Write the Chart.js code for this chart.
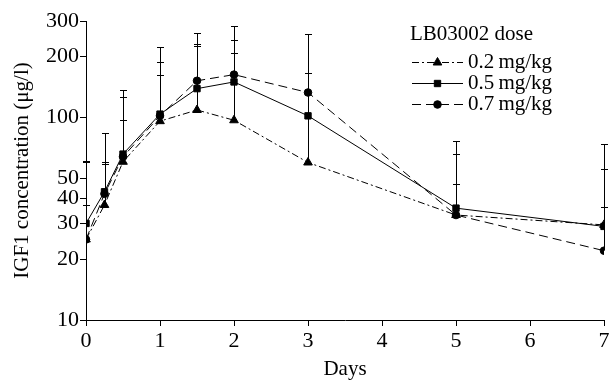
<!DOCTYPE html>
<html>
<head>
<meta charset="utf-8">
<script src="https://cdn.jsdelivr.net/npm/chart.js@4.4.1/dist/chart.umd.min.js"></script>
<style>
  html, body { margin: 0; padding: 0; background: #fff; }
  #c { display: block; }
</style>
</head>
<body>
<canvas id="c" width="612" height="382"></canvas>
<script>
// ---- data ----
const days = [0, 0.25, 0.5, 1, 1.5, 2, 3, 5, 7];
const dose02 = [25, 37, 60.5, 96, 109, 97, 60, 33, 29.5];
const dose05 = [30, 43, 66, 104, 139, 150, 102, 35.7, 29];
const dose07 = [25, 42, 64, 102, 152, 163, 133, 33, 22];
// top of the upper error bars
const upper02 = [61, 59, 97, 163, 226, 209, 166, 47, 56];
const upper05 = [37, 84, 126, 189, 230, 242, 166, 66, 74];
const upper07 = [60, 60, 137, 223, 261, 283, 258, 77, 36];
const yTicks = [10, 20, 30, 40, 50, 100, 200, 300];
const xTicks = [0, 1, 2, 3, 4, 5, 6, 7];
const seriesNames = ['0.2\u2009mg/kg', '0.5\u2009mg/kg', '0.7\u2009mg/kg'];
const legendTitle = 'LB03002 dose';
const yTitle = 'IGF1 concentration (\u03bcg/l)';
const xTitle = 'Days';

const FONT = "'Liberation Serif', 'Times New Roman', serif";

function pts(vals) { return days.map((d, i) => ({ x: d, y: vals[i] })); }

const errorBars = {
  id: 'errorBars',
  beforeDatasetsDraw(chart) {
    const ctx = chart.ctx;
    const xs = chart.scales.x, ys = chart.scales.y;
    ctx.save();
    ctx.strokeStyle = '#000';
    ctx.lineWidth = 1;
    chart.data.datasets.forEach(ds => {
      ds.upper.forEach((u, i) => {
        const px = Math.round(xs.getPixelForValue(ds.data[i].x)) + 0.5;
        const py0 = ys.getPixelForValue(ds.data[i].y);
        const py1 = Math.round(ys.getPixelForValue(u)) + 0.5;
        ctx.beginPath();
        ctx.moveTo(px, py0);
        ctx.lineTo(px, py1);
        ctx.moveTo(px - 3.5, py1);
        ctx.lineTo(px + 3.5, py1);
        ctx.stroke();
      });
    });
    ctx.restore();
  }
};

const customLegend = {
  id: 'customLegend',
  afterDraw(chart) {
    const ctx = chart.ctx;
    ctx.save();
    ctx.fillStyle = '#000';
    ctx.strokeStyle = '#000';
    ctx.font = '21px ' + FONT;
    ctx.textBaseline = 'middle';
    ctx.textAlign = 'left';
    ctx.fillText(legendTitle, 410, 34);
    const rows = [62, 83, 104];
    chart.data.datasets.forEach((ds, i) => {
      const y = rows[i];
      ctx.save();
      ctx.lineWidth = 1;
      ctx.setLineDash(ds.borderDash || []);
      ctx.beginPath();
      ctx.moveTo(412, y + 0.5);
      ctx.lineTo(463, y + 0.5);
      ctx.stroke();
      ctx.restore();
      ctx.fillStyle = '#000';
      Chart.helpers.drawPoint(ctx, { pointStyle: ds.pointStyle, radius: ds.pointRadius, rotation: 0, borderWidth: 1 }, 437.5, y + 0.5);
      ctx.fillStyle = '#000';
      ctx.fillText(seriesNames[i], 468, y);
    });
    ctx.restore();
  }
};

new Chart(document.getElementById('c'), {
  type: 'line',
  data: {
    datasets: [
      { label: seriesNames[0], data: pts(dose02), upper: upper02, borderColor: '#000', backgroundColor: '#000', borderWidth: 1, borderDash: [7, 3, 2, 3], pointStyle: 'triangle', pointRadius: 5, pointBorderWidth: 1 },
      { label: seriesNames[1], data: pts(dose05), upper: upper05, borderColor: '#000', backgroundColor: '#000', borderWidth: 1, borderDash: [], pointStyle: 'rect', pointRadius: 4.5, pointBorderWidth: 1 },
      { label: seriesNames[2], data: pts(dose07), upper: upper07, borderColor: '#000', backgroundColor: '#000', borderWidth: 1, borderDash: [9, 5], pointStyle: 'circle', pointRadius: 3.8, pointBorderWidth: 1 }
    ]
  },
  options: {
    responsive: false,
    animation: false,
    devicePixelRatio: 1,
    layout: { padding: { left: 0, right: 8, top: 21, bottom: 0 } },
    plugins: { legend: { display: false }, tooltip: { enabled: false } },
    scales: {
      x: {
        type: 'linear', min: 0, max: 7,
        afterBuildTicks: s => { s.ticks = xTicks.map(v => ({ value: v })); },
        afterFit: s => { s.height = 62; },
        grid: { display: true, drawOnChartArea: false, drawTicks: true, tickLength: 6, color: '#000' },
        border: { display: true, color: '#000', width: 1 },
        ticks: { color: '#000', font: { family: FONT, size: 22 }, padding: 2, maxRotation: 0 },
        title: { display: true, text: xTitle, color: '#000', font: { family: FONT, size: 21 }, padding: { top: 0, bottom: 0 } }
      },
      y: {
        type: 'logarithmic', min: 10, max: 300,
        afterBuildTicks: s => { s.ticks = yTicks.map(v => ({ value: v })); },
        afterFit: s => { s.width = 86; },
        grid: { display: true, drawOnChartArea: false, drawTicks: true, tickLength: 6, color: '#000' },
        border: { display: true, color: '#000', width: 1 },
        ticks: { color: '#000', font: { family: FONT, size: 22 }, padding: 1, callback: v => String(v) },
        title: { display: true, text: yTitle, color: '#000', font: { family: FONT, size: 21 }, padding: { top: 10, bottom: 0 } }
      }
    }
  },
  plugins: [errorBars, customLegend]
});
</script>
</body>
</html>
